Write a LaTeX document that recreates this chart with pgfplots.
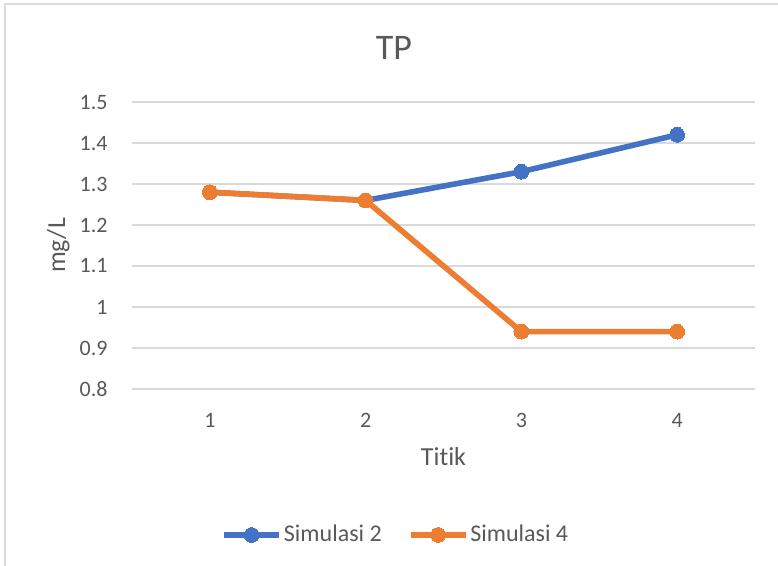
\documentclass[border=0pt]{standalone}
\usepackage{pgfplots}
\pgfplotsset{compat=1.18}
\usepackage{fontspec}
\setmainfont{Carlito}[Ligatures=NoCommon]

\definecolor{serA}{HTML}{4472C4}
\definecolor{serB}{HTML}{ED7D31}
\definecolor{gridc}{HTML}{D9D9D9}
\definecolor{txt}{HTML}{595959}

\begin{document}
\begin{tikzpicture}
% page area
\path[use as bounding box] (0pt,0pt) rectangle (389pt,-283pt);
% chart frame
\draw[gridc, line width=1pt] (2.5pt,-283pt) -- (2.5pt,-2pt) -- (389pt,-2pt);

\begin{axis}[
  at={(66pt,-194.5pt)}, anchor=south west,
  scale only axis,
  width=311.5pt, height=143.5pt,
  xmin=0.5, xmax=4.5,
  ymin=0.8, ymax=1.5,
  xtick={1,2,3,4},
  xticklabels={1,2,3,4},
  ytick={0.8,0.9,1.0,1.1,1.2,1.3,1.4,1.5},
  yticklabels={0.8,0.9,1,1.1,1.2,1.3,1.4,1.5},
  ymajorgrids,
  major grid style={gridc, line width=1pt},
  axis line style={draw=none},
  major tick length=0pt,
  tick style={draw=none},
  clip=false,
  font=\fontsize{11pt}{13pt}\selectfont,
  every tick label/.append style={text=txt},
  yticklabel style={anchor=east, inner sep=0pt, xshift=-12pt},
  xticklabel style={anchor=center, inner sep=0pt, yshift=-15.5pt},
  legend style={
    at={(rel axis cs:0.4234,-0.5087)}, anchor=center,
    draw=none, fill=none,
    font=\fontsize{12pt}{14pt}\selectfont, text=txt,
    legend columns=2,
    /tikz/every even column/.append style={column sep=12pt},
    inner sep=0pt,
    nodes={inner sep=1pt},
  },
  legend image code/.code={
    \draw[mark repeat=2, mark phase=2, line width=2.8pt]
      plot coordinates {(0pt,0pt) (13.75pt,0pt) (27.5pt,0pt)};
  },
  every axis plot/.append style={line width=2.8pt, line join=round,
    mark=*, mark size=3.7pt},
]
\addplot[serA, mark options={fill=serA, draw=serA, line width=0pt}]
  coordinates {(1,1.28) (2,1.26) (3,1.33) (4,1.42)};
\addlegendentry{Simulasi 2}
\addplot[serB, mark options={fill=serB, draw=serB, line width=0pt}]
  coordinates {(1,1.28) (2,1.26) (3,0.94) (4,0.94)};
\addlegendentry{Simulasi 4}
\end{axis}

% titles
\node[anchor=center, inner sep=0pt, text=txt, font=\fontsize{18pt}{21pt}\selectfont]
  at (197pt,-24pt) {TP};
\node[anchor=base, inner sep=0pt, text=txt, font=\fontsize{13pt}{15pt}\selectfont]
  at (221.75pt,-233pt) {Titik};
\node[rotate=90, anchor=base, inner sep=0pt, text=txt, font=\fontsize{13pt}{15pt}\selectfont]
  at (32.5pt,-122.75pt) {mg/L};
\end{tikzpicture}
\end{document}
